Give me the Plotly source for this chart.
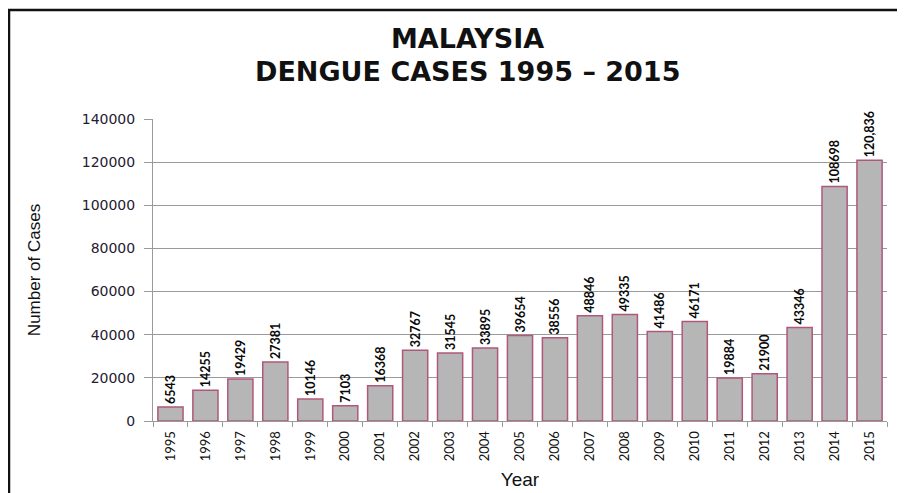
import plotly.graph_objects as go

years = [str(y) for y in range(1995, 2016)]
cases = [6543, 14255, 19429, 27381, 10146, 7103, 16368, 32767, 31545, 33895,
         39654, 38556, 48846, 49335, 41486, 46171, 19884, 21900, 43346, 108698, 120836]
labels = ["6543", "14255", "19429", "27381", "10146", "7103", "16368", "32767",
          "31545", "33895", "39654", "38556", "48846", "49335", "41486", "46171",
          "19884", "21900", "43346", "108698", "120,836"]
y_ticks = [0, 20000, 40000, 60000, 80000, 100000, 120000, 140000]

# page body has an 8px margin, so the figure is drawn 8px smaller and shifted
OFF = 8
W, H = 905 - OFF, 493 - OFF
L, T = 153 - OFF, 119 - OFF
R = W - (887 - OFF)
B = H - (421 - OFF)
pw, ph = W - L - R, H - T - B


def px_x(x):
    return (x - OFF - L) / pw


def px_y(y):
    return (H - B - (y - OFF)) / ph


fig = go.Figure(
    go.Bar(
        x=years,
        y=cases,
        text=labels,
        textposition="outside",
        textangle=-90,
        constraintext="none",
        textfont=dict(family="Lato", size=12.5, color="#0a0a0a", weight="bold"),
        cliponaxis=False,
        marker=dict(color="#b6b6b6", line=dict(color="#b0587c", width=1.5)),
        hoverinfo="x+y",
    )
)

fig.update_layout(
    width=W,
    height=H,
    margin=dict(l=L, r=R, t=T, b=B),
    paper_bgcolor="white",
    plot_bgcolor="white",
    showlegend=False,
    bargap=0.28,
    xaxis=dict(
        type="category",
        automargin=False,
        tickangle=-90,
        tickfont=dict(family="Lato", size=13, color="#111111"),
        ticklabelstandoff=4,
        showline=True,
        linecolor="#9a9a9a",
        ticks="outside",
        tickson="boundaries",
        ticklen=5,
        tickcolor="#9a9a9a",
        showgrid=False,
        title=dict(text="Year", font=dict(family="Liberation Sans", size=19, color="#111111"), standoff=12),
    ),
    yaxis=dict(
        range=[0, 140000],
        automargin=False,
        tickvals=y_ticks,
        ticktext=[str(v) for v in y_ticks],
        tickfont=dict(family="DejaVu Sans", size=14, color="#1e2030"),
        ticklabelstandoff=6,
        showline=True,
        linecolor="#9a9a9a",
        ticks="outside",
        ticklen=8,
        tickcolor="#9a9a9a",
        gridcolor="#9a9a9a",
        zeroline=False,
        title=dict(text="Number of Cases", font=dict(family="Liberation Sans", size=17, color="#111111"), standoff=36),
    ),
    annotations=[
        dict(text="<b>MALAYSIA</b>", xref="paper", yref="paper",
             x=px_x(467), y=px_y(38), showarrow=False,
             xanchor="center", yanchor="middle",
             font=dict(family="DejaVu Sans", size=27, color="#111111")),
        dict(text="<b>DENGUE CASES 1995 \u2013 2015</b>", xref="paper", yref="paper",
             x=px_x(467), y=px_y(72), showarrow=False,
             xanchor="center", yanchor="middle",
             font=dict(family="DejaVu Sans", size=27, color="#111111")),
    ],
    shapes=[
        dict(type="rect", xref="paper", yref="paper",
             x0=px_x(9), x1=px_x(910),
             y0=px_y(498), y1=px_y(10),
             line=dict(color="#111111", width=2.5), fillcolor="rgba(0,0,0,0)", layer="below"),
    ],
)

fig.write_html("out.html")
